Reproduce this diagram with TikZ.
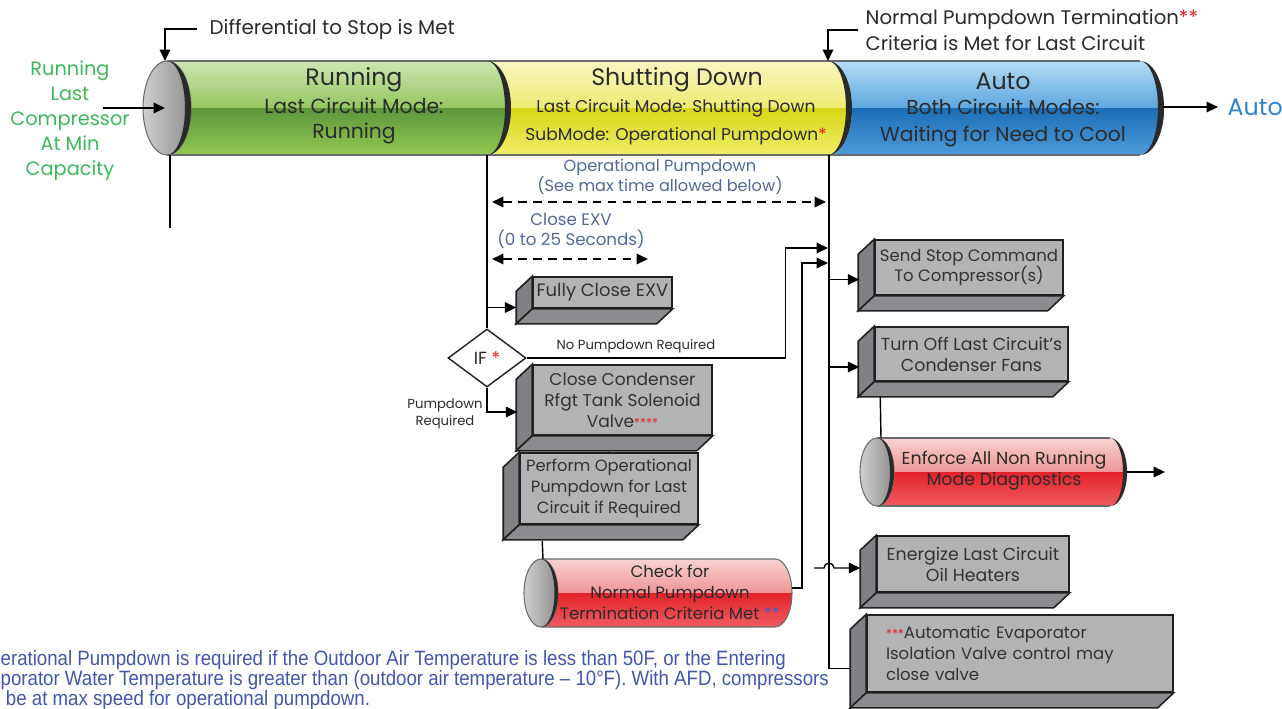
\documentclass[tikz,border=0pt]{standalone}
\usepackage{fontspec}
\setmainfont{Poppins}
\newfontfamily\notefont[FakeStretch=0.9]{Liberation Sans}
\usetikzlibrary{arrows.meta,shapes.geometric}

\definecolor{boxfront}{HTML}{B2B3B5}
\definecolor{boxleft}{HTML}{7F8184}
\definecolor{boxbottom}{HTML}{8B8C8F}
\definecolor{boxline}{HTML}{231F20}
\definecolor{boxtext}{HTML}{333333}
\definecolor{pipetext}{HTML}{2B2B2B}
\definecolor{pipeline}{HTML}{6A6B6D}
\definecolor{endcol}{HTML}{2A2A2A}
\definecolor{slate}{HTML}{50699A}
\definecolor{notegreen}{HTML}{3CB95A}
\definecolor{autoblue}{HTML}{2D83D0}
\definecolor{noteblue}{HTML}{4256AC}
\definecolor{starred}{HTML}{ED1C24}
\definecolor{starblue}{HTML}{4A5CC0}
\definecolor{capA}{HTML}{CFCFCF}
\definecolor{capB}{HTML}{8E8E8E}
\definecolor{grnA}{HTML}{CFE6B2}
\definecolor{grnB}{HTML}{94C65E}
\definecolor{grnC}{HTML}{5C963A}
\definecolor{grnD}{HTML}{92C952}
\definecolor{yelA}{HTML}{F8F6C2}
\definecolor{yelB}{HTML}{EEEA72}
\definecolor{yelC}{HTML}{D9D616}
\definecolor{yelD}{HTML}{EFED66}
\definecolor{bluA}{HTML}{B6DDF5}
\definecolor{bluB}{HTML}{5CA6DD}
\definecolor{bluC}{HTML}{1B6DB5}
\definecolor{bluD}{HTML}{4D9BD9}
\definecolor{redA}{HTML}{F8D2D2}
\definecolor{redB}{HTML}{EF9595}
\definecolor{redC}{HTML}{E4222A}
\definecolor{redD}{HTML}{EF5C60}

\newcommand{\titlefont}{\fontsize{13.5}{15}\selectfont}
\newcommand{\boxfont}{\fontsize{9.7}{11.9}\selectfont}
\newcommand{\smallfont}{\fontsize{7.5}{9.6}\selectfont}

% body of a pipe section, clipped between two end ellipses
\newcommand{\pipebody}[7]{%
  \begin{scope}
    \clip (#1,#3) -- (#2,#3) arc[start angle=90,end angle=-90,x radius=#5,y radius=#6]
      -- (#1,#4) arc[start angle=-90,end angle=90,x radius=#5,y radius=#6] -- cycle;
    \shade[top color=#7A,bottom color=#7B] (#1-40,#3) rectangle (#2+40,{(#3+#4)/2});
    \shade[top color=#7C,bottom color=#7D] (#1-40,{(#3+#4)/2}) rectangle (#2+40,#4);
  \end{scope}}
% dark rim at the end of a section
\newcommand{\pipeend}[5]{%
  \fill[endcol] (#1,#2) arc[start angle=90,end angle=-90,x radius=#3,y radius=#5]
    arc[start angle=-90,end angle=90,x radius=#4,y radius=#5] -- cycle;}
% left and bottom faces of a raised box
\newcommand{\boxsides}[1]{%
  \filldraw[draw=boxline,fill=boxleft,line width=0.9pt] (#1.north west) -- ++(-16,15)
    -- ([shift={(-16,15)}]#1.south west) -- (#1.south west) -- cycle;
  \filldraw[draw=boxline,fill=boxbottom,line width=0.9pt] (#1.south west) -- (#1.south east)
    -- ++(-16,15) -- ([shift={(-16,15)}]#1.south west) -- cycle;}

\begin{document}
\begin{tikzpicture}[x=0.02cm,y=-0.02cm,inner sep=0pt,line width=0.8pt,
    >={Triangle[length=6.5pt,width=6pt]},
    face/.style={draw=boxline,fill=boxfront,line width=0.9pt,text=boxtext,align=center,font=\boxfont},
    pipelabel/.style={text=pipetext,align=center}]
  \useasboundingbox (0,0) rectangle (1282,708);

  % main pipe
  \pipebody{167}{487}{61}{155}{0.48cm}{0.94cm}{grn}
  \pipebody{487}{828}{61}{155}{0.48cm}{0.94cm}{yel}
  \pipebody{828}{1140}{61}{155}{0.48cm}{0.94cm}{blu}
  \draw[pipeline,line width=0.6pt] (167,61) -- (1140,61) (167,155) -- (1140,155);
  \pipeend{487}{61}{0.48cm}{0.36cm}{0.94cm}
  \pipeend{828}{61}{0.48cm}{0.36cm}{0.94cm}
  \pipeend{1140}{61}{0.48cm}{0.36cm}{0.94cm}
  \shade[left color=capA,right color=capB,draw=pipeline,line width=0.6pt] (167,108) ellipse[x radius=0.48cm,y radius=0.94cm];
  \pipeend{167}{61}{0.48cm}{0.36cm}{0.94cm}

  \coordinate (capT) at (165,61);
  \coordinate (capC) at (165,108);
  \coordinate (capB) at (170,155);
  \coordinate (grnIn) at (103,108);
  \coordinate (runTail) at (170,228);
  \coordinate (grnEnd) at (487,155);
  \coordinate (yelEnd) at (828,61);
  \coordinate (yelBot) at (829,155);
  \coordinate (bluR) at (1163,107);

  \node (runT) at (354,80) [pipelabel,font=\titlefont] {Running};
  \node (runS) at (354,121) [pipelabel,font=\fontsize{11.6}{14.2}\selectfont] {Last Circuit Mode:\\Running};
  \node (shutT) at (677,80) [pipelabel,font=\titlefont] {Shutting Down};
  \node (shutS) at (676,122) [pipelabel,font=\fontsize{9.7}{15.8}\selectfont] {Last Circuit Mode: Shutting Down\\SubMode: Operational Pumpdown\textcolor{starred}{*}};
  \node (autoT) at (1003,81) [pipelabel,font=\titlefont] {Auto};
  \node (autoS) at (1003,123) [pipelabel,font=\fontsize{11.5}{15.9}\selectfont] {Both Circuit Modes:\\Waiting for Need to Cool};

  \node (diff) at (209,29) [right,text=pipetext,font=\fontsize{11.3}{13}\selectfont] {Differential to Stop is Met};
  \node (npd) at (865,30) [right,text=pipetext,align=left,font=\fontsize{11.2}{14.7}\selectfont] {Normal Pumpdown Termination\textcolor{starred}{**}\\Criteria is Met for Last Circuit};
  \node (runlast) at (70,121) [text=notegreen,align=center,font=\fontsize{11}{14.2}\selectfont] {Running\\Last\\Compressor\\At Min\\Capacity};
  \node (autoTxt) at (1227,107) [right,text=autoblue,font=\fontsize{13.5}{15}\selectfont] {Auto};

  \draw[->] ([shift={(-12,0)}]diff.west) -| (capT);
  \draw[->] ([shift={(-7,0)}]npd.west) -| (yelEnd);
  \draw[->] (grnIn) -- (capC);
  \draw (capB) -- (runTail);
  \draw[->] (bluR) -- ([shift={(-9,0)}]autoTxt.west);

  % timing
  \coordinate (opL) at (492,202);
  \coordinate (opR) at (826,202);
  \coordinate (cxL) at (492,259);
  \coordinate (cxR) at (648,259);
  \node (opTxt) at (660,177) [text=slate,align=center,font=\fontsize{9.2}{11.3}\selectfont] {Operational Pumpdown\\(See max time allowed below)};
  \node (cxTxt) at (571,231) [text=slate,align=center,font=\fontsize{9.5}{11.8}\selectfont] {Close EXV\\(0 to 25 Seconds)};
  \draw[<->,dashed,dash pattern=on 5pt off 3.5pt] (opL) -- (opR);
  \draw[<->,dashed,dash pattern=on 5pt off 3.5pt] (cxL) -- (cxR);

  % boxes
  \node (exv) at (602.5,292.5) [face,font=\fontsize{10.2}{12}\selectfont,minimum width=2.78cm,minimum height=0.62cm] {Fully Close EXV};
  \node (close) at (622.5,400) [face,minimum width=3.58cm,minimum height=1.40cm] {Close Condenser\\Rfgt Tank Solenoid\\Valve\textcolor{starred}{\fontsize{7}{7}\selectfont****}};
  \node (perform) at (609,488.5) [face,font=\fontsize{9.3}{11.9}\selectfont,minimum width=3.56cm,minimum height=1.42cm] {Perform Operational\\Pumpdown for Last\\Circuit if Required};
  \node (stop) at (969,267.5) [face,font=\fontsize{9.4}{11.9}\selectfont,minimum width=3.76cm,minimum height=1.10cm] {Send Stop Command\\To Compressor(s)};
  \node (fans) at (971.5,354) [face,font=\fontsize{9.9}{11.9}\selectfont,minimum width=3.86cm,minimum height=1.08cm] {Turn Off Last Circuit's\\Condenser Fans};
  \node (heaters) at (973,564) [face,font=\fontsize{9.9}{11.9}\selectfont,minimum width=3.84cm,minimum height=1.12cm] {Energize Last Circuit\\Oil Heaters};
  \node (valve) at (1020,653.5) [face,font=\fontsize{9.4}{11.9}\selectfont,align=left,text width=5.36cm,inner xsep=0.38cm,minimum width=6.12cm,minimum height=1.54cm] {\textcolor{starred}{\fontsize{7}{7}\selectfont***}Automatic Evaporator\\Isolation Valve control may\\close valve};
  \boxsides{exv}
  \boxsides{close}
  \boxsides{perform}
  \boxsides{stop}
  \boxsides{fans}
  \boxsides{heaters}
  \boxsides{valve}

  \node (ifq) at (487,358) [diamond,draw=boxline,fill=white,line width=0.8pt,aspect=1.34,minimum width=1.56cm,minimum height=1.16cm,font=\fontsize{10}{12}\selectfont,text=pipetext] {IF \textcolor{starred}{*}};

  % red cylinders
  \pipebody{877}{1110}{438}{506}{0.34cm}{0.68cm}{red}
  \draw[pipeline,line width=0.6pt] (877,438) -- (1110,438) (877,506) -- (1110,506);
  \pipeend{1110}{438}{0.34cm}{0.26cm}{0.68cm}
  \shade[left color=capA,right color=capB,draw=pipeline,line width=0.6pt] (877,472) ellipse[x radius=0.34cm,y radius=0.68cm];
  \pipeend{877}{438}{0.34cm}{0.26cm}{0.68cm}
  \coordinate (enfT) at (881,438);
  \coordinate (enfR) at (1127,472);
  \coordinate (enfOut) at (1165,472);
  \node (enf) at (1004,471) [pipelabel,font=\fontsize{9.9}{11.9}\selectfont] {Enforce All Non Running\\Mode Diagnostics};

  \pipebody{541}{775}{559}{627}{0.34cm}{0.68cm}{red}
  \draw[pipeline,line width=0.6pt] (541,559) -- (775,559) arc[start angle=90,end angle=-90,x radius=0.34cm,y radius=0.68cm] -- (541,627);
  \shade[left color=capA,right color=capB,draw=pipeline,line width=0.6pt] (541,593) ellipse[x radius=0.34cm,y radius=0.68cm];
  \pipeend{541}{559}{0.34cm}{0.27cm}{0.68cm}
  \coordinate (chkT) at (543,559);
  \coordinate (chkR) at (792,588);
  \node (chk) at (670,592) [pipelabel,font=\fontsize{9.4}{11.9}\selectfont,align=center] {Check for\\Normal Pumpdown\\Termination Criteria Met \textcolor{starblue}{**}};

  % connectors
  \coordinate (exvL) at ([shift={(-16,15)}]exv.west);
  \coordinate (closeL) at ([shift={(-15,12)}]close.west);
  \coordinate (stopL) at ([shift={(-15,12)}]stop.west);
  \coordinate (fansL) at ([shift={(-15,13)}]fans.west);
  \coordinate (heatL) at ([shift={(-16,4)}]heaters.west);
  \coordinate (valveL) at ([shift={(-16,15)}]valve.west);
  \coordinate (busA) at (828,248);
  \coordinate (busB) at (828,263);
  \coordinate (hopIn) at (814,568);

  \draw (grnEnd) -- (ifq.north);
  \draw[->] (ifq.north |- exvL) -- (exvL);
  \draw[->] (ifq.south) |- (closeL);
  \draw[->] (ifq.east) -- ++(259,0) |- (busA);
  \draw[->] (chkR) -- ++(10,0) |- (busB);
  \draw (yelBot) |- (valveL);
  \draw[->] (yelBot |- stopL) -- (stopL);
  \draw[->] (yelBot |- fansL) -- (fansL);
  \draw[->] (hopIn) -- (824,568) arc[start angle=180,end angle=0,radius=0.1cm] -- (heatL);
  \draw ([shift={(6,15)}]fans.south west) -- (enfT);
  \draw ([shift={(-13,16)}]close.south) -- (perform.north);
  \draw ([shift={(23,16)}]perform.south west) -- (chkT);
  \draw[->] (enfR) -- (enfOut);

  \node (nopd) at (636,346) [text=pipetext,font=\smallfont] {No Pumpdown Required};
  \node (pdr) at (445,414) [text=pipetext,align=center,font=\smallfont] {Pumpdown\\Required};

  % footnote
  \node (note) at (0,680) [right,text=noteblue,align=left,font=\notefont\fontsize{11.8}{11.4}\selectfont] {erational Pumpdown is required if the Outdoor Air Temperature is less than 50F, or the Entering\\porator Water Temperature is greater than (outdoor air temperature \textendash{} 10°F). With AFD, compressors\\\hspace*{3pt}be at max speed for operational pumpdown.};
\end{tikzpicture}
\end{document}
